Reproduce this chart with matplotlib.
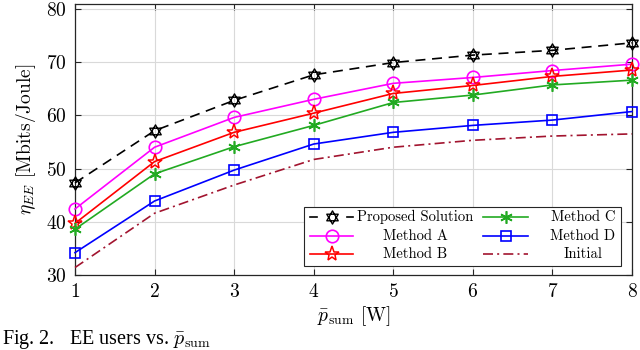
import matplotlib

matplotlib.use("Agg")
import matplotlib.pyplot as plt
import numpy as np
from matplotlib.lines import Line2D
from matplotlib.patches import Rectangle
from matplotlib.path import Path

plt.rcParams["font.family"] = "serif"
plt.rcParams["font.serif"] = ["cmr10", "DejaVu Serif"]
plt.rcParams["mathtext.fontset"] = "cm"
plt.rcParams["axes.formatter.use_mathtext"] = True

# data (EE in Mbits/Joule vs total power in W)
p_sum = [1, 2, 3, 4, 5, 6, 7, 8]
proposed = [47.3, 57.1, 62.8, 67.6, 69.9, 71.3, 72.2, 73.6]
method_a = [42.4, 54.0, 59.6, 63.0, 66.0, 67.1, 68.4, 69.6]
method_b = [39.7, 51.3, 56.8, 60.4, 64.1, 65.6, 67.3, 68.5]
method_c = [38.6, 49.0, 54.1, 58.1, 62.4, 63.8, 65.7, 66.6]
method_d = [34.2, 43.9, 49.7, 54.6, 56.8, 58.1, 59.1, 60.7]
initial = [31.4, 41.6, 46.9, 51.7, 54.0, 55.3, 56.1, 56.5]

labels = ["Proposed Solution", "Method A", "Method B", "Method C", "Method D", "Initial"]

# hexagram marker: two overlaid triangles (MATLAB 'h')
s3 = np.sqrt(3) / 2
hexagram = Path(
    [(0, 1), (-s3, -0.5), (s3, -0.5), (0, 1), (0, -1), (s3, 0.5), (-s3, 0.5), (0, -1)],
    [Path.MOVETO, Path.LINETO, Path.LINETO, Path.CLOSEPOLY] * 2,
)

styles = [
    dict(color="black", ls=(0, (6, 4)), marker=hexagram, ms=9.5, mew=1.0),
    dict(color="#ff00ff", ls="-", marker="o", ms=9, mew=1.2),
    dict(color="#ff0000", ls="-", marker="*", ms=11, mew=1.1),
    dict(color="#22aa22", ls="-", marker=(6, 2, 0), ms=9, mew=1.2),
    dict(color="#0000ff", ls="-", marker="s", ms=7, mew=1.2),
    dict(color="#a2142f", ls=(0, (6, 2.5, 1.2, 2.5)), marker=None, ms=0, mew=0),
]
series = [proposed, method_a, method_b, method_c, method_d, initial]

fig = plt.figure(figsize=(6.4, 3.5), dpi=100)
ax = fig.add_axes([75 / 640, 1 - 275 / 350, 557 / 640, 271 / 350])

for y, st in zip(series, styles):
    ax.plot(p_sum, y, color=st["color"], ls=st["ls"], lw=1.2, marker=st["marker"],
            ms=st["ms"], mfc="none", mew=st["mew"], clip_on=False, zorder=3)

ax.set_xlim(1, 8)
ax.set_ylim(30, 80.9)
ax.set_xticks(p_sum)
ax.set_yticks([30, 40, 50, 60, 70, 80])
ax.grid(color="#d9d9d9", lw=0.8)
ax.set_axisbelow(True)
ax.tick_params(direction="in", top=True, right=True, labelsize=14, length=4, width=0.8,
               colors="#262626", labelcolor="black", pad=6)
for sp in ax.spines.values():
    sp.set_color("#262626")
    sp.set_linewidth(0.9)

ax.set_xlabel(r"$\bar{p}_{\rm sum}$ [W]", fontsize=14, labelpad=2)
ax.set_ylabel(r"$\eta_{EE}$ [Mbits/Joule]", fontsize=14, labelpad=6)

# MATLAB-style legend: two columns, labels centred in their column
px = lambda x: (x - 75) / 557
py = lambda y: (275 - y) / 271
ax.add_patch(Rectangle((px(304), py(266)), px(621) - px(304), py(207) - py(266),
                       transform=ax.transAxes, fc="white", ec="#262626", lw=0.8, zorder=5))
rows = [217, 236, 254]
cols = [(310, 353, 415), (483, 528, 583)]
for i, (lab, st) in enumerate(zip(labels, styles)):
    x0, x1, xt = cols[i // 3]
    yy = py(rows[i % 3])
    xm = (x0 + x1) / 2
    if i == 0:
        for a, b in ((x0, x0 + 7), (x1 - 6, x1)):
            ax.add_line(Line2D([px(a), px(b)], [yy, yy], transform=ax.transAxes,
                               color=st["color"], lw=1.2, zorder=6))
    else:
        ax.add_line(Line2D([px(x0), px(x1)], [yy, yy], transform=ax.transAxes,
                           color=st["color"], ls=st["ls"], lw=1.2, zorder=6))
    if st["marker"] is not None:
        ax.add_line(Line2D([px(xm)], [yy], transform=ax.transAxes, color=st["color"],
                           marker=st["marker"], ms=st["ms"], mfc="none", mew=st["mew"],
                           zorder=6))
    ax.text(px(xt), yy, lab, transform=ax.transAxes, ha="center", va="center",
            fontsize=10.5, zorder=7)

fig.text(0.003, 1 - 344 / 350, r"Fig. 2.   EE users vs. $\bar{p}_{\rm sum}$",
         fontsize=14.5, family="Liberation Serif", va="baseline", ha="left")

fig.savefig("out.png", dpi=100)
